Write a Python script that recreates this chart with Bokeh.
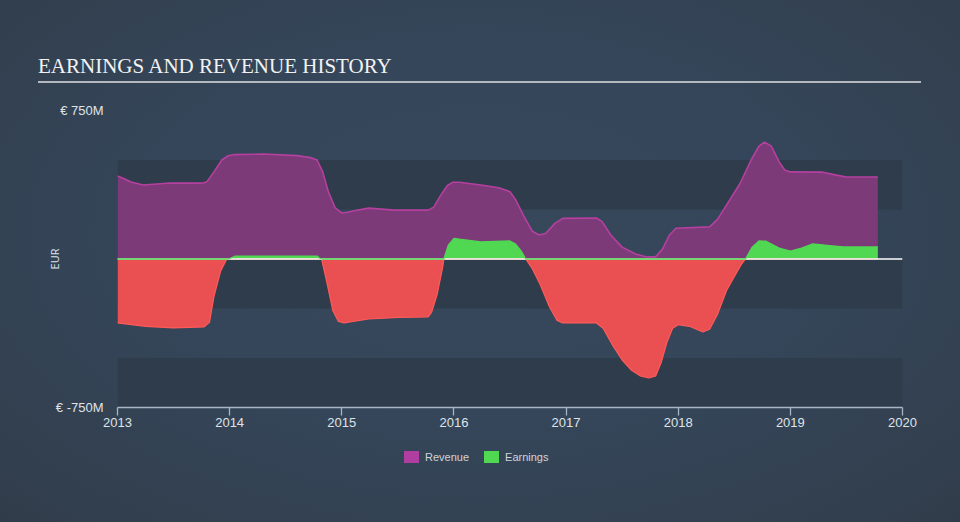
import numpy as np
from bokeh.plotting import figure
from bokeh.layouts import column
from bokeh.models import Span, FixedTicker, Range1d, Div
from bokeh.embed import file_html
from bokeh.resources import INLINE

# ---------------- data (millions EUR, decimal years) ----------------
rev_year = [2013.00, 2013.06, 2013.12, 2013.23, 2013.47, 2013.72, 2013.77, 2013.80, 2013.86,
            2013.93, 2013.98, 2014.03, 2014.30, 2014.60, 2014.72, 2014.78, 2014.83,
            2014.88, 2014.94, 2015.00, 2015.05, 2015.12, 2015.24, 2015.47, 2015.77,
            2015.82, 2015.88, 2015.94, 2015.99, 2016.05, 2016.24, 2016.40, 2016.50,
            2016.55, 2016.62, 2016.70, 2016.76, 2016.82, 2016.90, 2016.97, 2017.27,
            2017.32, 2017.40, 2017.50, 2017.62, 2017.72, 2017.80, 2017.86, 2017.92,
            2017.98, 2018.28, 2018.35, 2018.45, 2018.55, 2018.65, 2018.72, 2018.77,
            2018.83, 2018.90, 2018.95, 2019.00, 2019.28, 2019.40, 2019.50, 2019.78]
rev_val = [419, 405, 389, 374, 384, 383, 384, 392, 440,
           500, 520, 527, 530, 522, 512, 500, 440,
           340, 260, 232, 236, 245, 257, 247, 247,
           262, 320, 370, 388, 388, 374, 360, 340,
           300, 220, 140, 121, 130, 180, 205, 207,
           190, 120, 60, 25, 10, 12, 50, 120,
           155, 162, 200, 290, 380, 500, 570, 590,
           570, 490, 450, 440, 439, 425, 414, 414]

earn_year = [2013.00, 2013.25, 2013.50, 2013.77, 2013.82, 2013.86, 2013.92, 2013.97,
             2013.99, 2014.05, 2014.78, 2014.80, 2014.82, 2014.86, 2014.92, 2014.97,
             2015.02, 2015.24, 2015.50, 2015.77, 2015.80, 2015.85, 2015.90, 2015.91,
             2015.95, 2016.00, 2016.05, 2016.24, 2016.50, 2016.55, 2016.60, 2016.64,
             2016.70, 2016.77, 2016.85, 2016.92, 2016.97, 2017.27, 2017.33, 2017.42,
             2017.50, 2017.58, 2017.66, 2017.74, 2017.80, 2017.85, 2017.90, 2017.95,
             2018.00, 2018.10, 2018.22, 2018.28, 2018.35, 2018.43, 2018.50, 2018.56,
             2018.60, 2018.66, 2018.72, 2018.78, 2018.90, 2019.00, 2019.10, 2019.20,
             2019.35, 2019.47, 2019.78]
earn_val = [-323, -340, -348, -343, -320, -190, -60, -5,
            0, 15, 15, 5, 0, -100, -260, -315,
            -323, -303, -295, -293, -270, -180, -40, 0,
            70, 104, 100, 86, 91, 75, 40, 0,
            -50, -130, -240, -310, -323, -323, -350, -440,
            -510, -560, -590, -601, -590, -520, -420, -350,
            -332, -340, -369, -355, -280, -160, -90, -30,
            0, 60, 91, 90, 55, 40, 55, 76,
            68, 61, 61]

year_ticks = [2013, 2014, 2015, 2016, 2017, 2018, 2019, 2020]
y_ticks = [-750, 750]
y_tick_labels = {750: "€ 750M", -750: "€ -750M"}
band_bottoms = [250, -250, -750]
band_tops = [500, 0, -500]
title_text = "EARNINGS AND REVENUE HISTORY"
legend_labels = ["Revenue", "Earnings"]

X0, X1 = 2013, 2020
Y0, Y1 = -750, 750

# ---------------- styling ----------------
BG_CSS = ("radial-gradient(ellipse 75% 80% at 50% 45%, #37485b 0%, #35465a 45%, "
          "#323f4e 85%, #2f3b48 100%)")
BAND = "#2e3c4b"
REV_FILL = "#7c3a78"
REV_LINE = "#b5409f"
REV_LEG = "#b03ea0"
GREEN = "#50d853"
RED = "#ea5051"
RED_LINE = "#ff5a5a"
AXIS = "#a9b4c4"
TXT = "#dfe3e8"

TITLE_H = 83
FIG_H = 360          # frame 110..407 on the page, axis below
LEG_H = 522 - TITLE_H - FIG_H

title = Div(
    text=('<div style="font-family:\'Liberation Serif\',serif;font-size:21px;'
          'line-height:21px;color:#f2f2f2;margin-left:38px;width:883px;'
          'padding-top:56px;padding-bottom:4px;border-bottom:2px solid #b4b9c0;'
          'white-space:nowrap;">' + title_text + '</div>'),
    width=960, height=TITLE_H, margin=0)

p = figure(width=960, height=FIG_H, output_backend="svg", toolbar_location=None,
           title=None, x_range=Range1d(X0, X1), y_range=Range1d(Y0, Y1),
           min_border_left=117, min_border_right=58,
           min_border_top=110 - TITLE_H, min_border_bottom=FIG_H - (407 - TITLE_H),
           margin=0)
p.background_fill_alpha = 0
p.border_fill_alpha = 0
p.outline_line_color = None
p.grid.visible = False

# bands
p.quad(left=X0, right=X1, bottom=band_bottoms, top=band_tops,
       fill_color=BAND, line_color=None, level="underlay")

# revenue
p.varea(x=rev_year, y1=0, y2=rev_val, fill_color=REV_FILL, fill_alpha=1)
p.line(rev_year, rev_val, line_color=REV_LINE, line_width=1.6)

# earnings
e = np.array(earn_val, dtype=float)
pos = np.maximum(e, 0)
neg = np.minimum(e, 0)
p.varea(x=earn_year, y1=0, y2=pos, fill_color=GREEN)
p.varea(x=earn_year, y1=0, y2=neg, fill_color=RED)
p.line(earn_year, neg, line_color=RED_LINE, line_width=1.2)

zero = Span(location=0, dimension="width", line_color="white", line_width=1.3)
p.add_layout(zero)
gl = p.line(earn_year, pos, line_color=GREEN, line_width=1.3)
gl.level = "overlay"

# axes
xa = p.xaxis[0]
xa.ticker = FixedTicker(ticks=year_ticks)
xa.axis_line_color = AXIS
xa.axis_line_width = 1.3
xa.major_tick_line_color = AXIS
xa.major_tick_line_width = 1.3
xa.major_tick_out = 8
xa.major_tick_in = 0
xa.minor_tick_line_color = None
xa.major_label_standoff = 2
xa.major_label_text_color = TXT
xa.major_label_text_font = "Liberation Sans"
xa.major_label_text_font_size = "13px"

ya = p.yaxis[0]
ya.ticker = FixedTicker(ticks=y_ticks)
ya.major_label_overrides = y_tick_labels
ya.axis_line_color = None
ya.major_tick_line_color = None
ya.minor_tick_line_color = None
ya.major_tick_out = 0
ya.major_tick_in = 0
ya.major_label_standoff = 14
ya.major_label_text_color = TXT
ya.major_label_text_font = "Liberation Sans"
ya.major_label_text_font_size = "13px"
ya.axis_label = "EUR"
ya.axis_label_standoff = -9
ya.axis_label_text_color = TXT
ya.axis_label_text_font = "Open Sans"
ya.axis_label_text_font_style = "normal"
ya.axis_label_text_font_size = "11px"

# legend (HTML, below the figure)
def item(color, label, gap):
    return ('<span style="display:inline-block;width:15px;height:12px;'
            'background:' + color + ';vertical-align:middle;margin-left:' + gap + ';"></span>'
            '<span style="display:inline-block;vertical-align:middle;margin-left:6px;'
            'font-family:\'Liberation Sans\',sans-serif;font-size:11px;line-height:12px;'
            'color:#cfd4da;">' + label + '</span>')

legend = Div(
    text=('<div style="padding-top:' + str(450 - TITLE_H - FIG_H) + 'px;margin-left:404px;'
          'white-space:nowrap;line-height:12px;">'
          + item(REV_LEG, legend_labels[0], "0px") + item(GREEN, legend_labels[1], "15px")
          + '</div>'),
    width=960, height=LEG_H, margin=0)

layout = column(title, p, legend, spacing=0, margin=0, width=960, height=522,
                styles={"background": BG_CSS})
open("out.html", "w").write(file_html(layout, INLINE))
